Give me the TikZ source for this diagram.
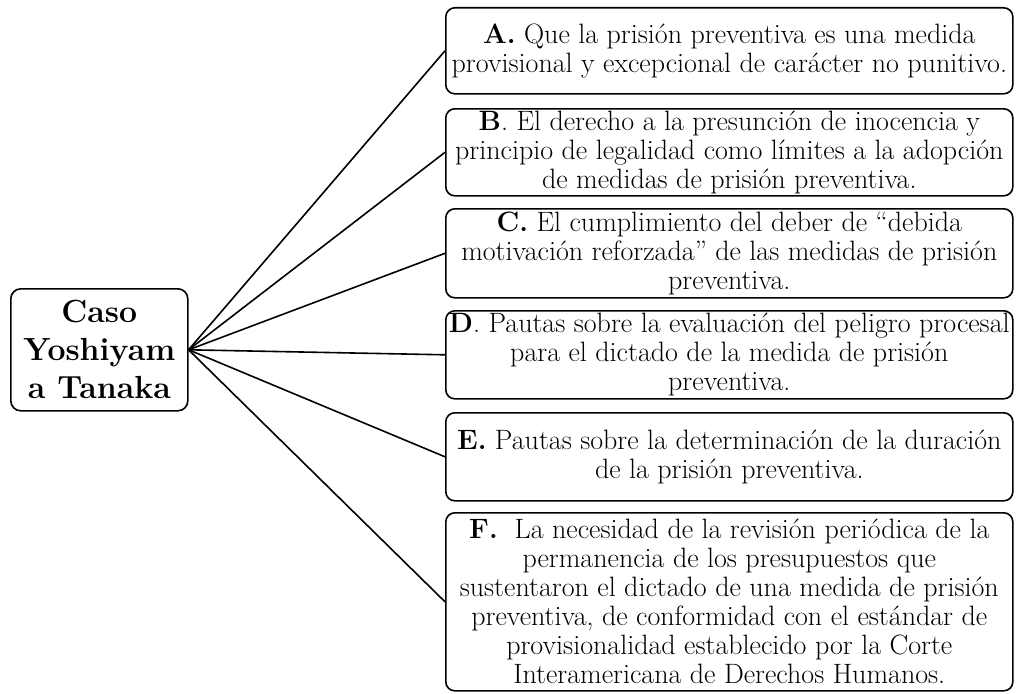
\documentclass[tikz,border=0pt]{standalone}
\begin{document}
\begin{tikzpicture}[x=1pt,y=-1pt,
  box/.style={draw, line width=1.6pt, rounded corners=9pt, align=center, inner sep=0pt,
    anchor=north west, minimum width=567pt, font=\fontsize{28}{29}\selectfont},
  rootbox/.style={draw, line width=1.6pt, rounded corners=10pt, align=center, inner sep=0pt,
    anchor=north west, minimum width=177pt, minimum height=122pt, font=\fontsize{32}{38}\selectfont\bfseries},
  link/.style={line width=1.6pt}]
\useasboundingbox (0,0) rectangle (1016,693);
\node[rootbox] (root) at (10,288) {Caso\\Yoshiyam\\a Tanaka};
\node[box, minimum height=86pt] (A) at (445,7) {\textbf{A.} Que la prisión preventiva es una medida\\provisional y excepcional de carácter no punitivo.};
\node[box, minimum height=87pt] (B) at (445,108) {\textbf{B}. El derecho a la presunción de inocencia y\\principio de legalidad como límites a la adopción\\de medidas de prisión preventiva.};
\node[box, minimum height=89pt] (C) at (445,208) {\textbf{C.} El cumplimiento del deber de “debida\\motivación reforzada” de las medidas de prisión\\preventiva.};
\node[box, minimum height=88pt] (D) at (445,310) {\textbf{D}. Pautas sobre la evaluación del peligro procesal\\para el dictado de la medida de prisión\\preventiva.};
\node[box, minimum height=88pt] (E) at (445,412) {\textbf{E.} Pautas sobre la determinación de la duración\\de la prisión preventiva.};
\node[box, minimum height=178pt] (F) at (445,512) {\textbf{F.}\ \ La necesidad de la revisión periódica de la\\permanencia de los presupuestos que\\sustentaron el dictado de una medida de prisión\\preventiva, de conformidad con el estándar de\\provisionalidad establecido por la Corte\\Interamericana de Derechos Humanos.};
\foreach \n in {A,B,C,D,E,F} \draw[link] (root.east) -- (\n.west);
\end{tikzpicture}
\end{document}
